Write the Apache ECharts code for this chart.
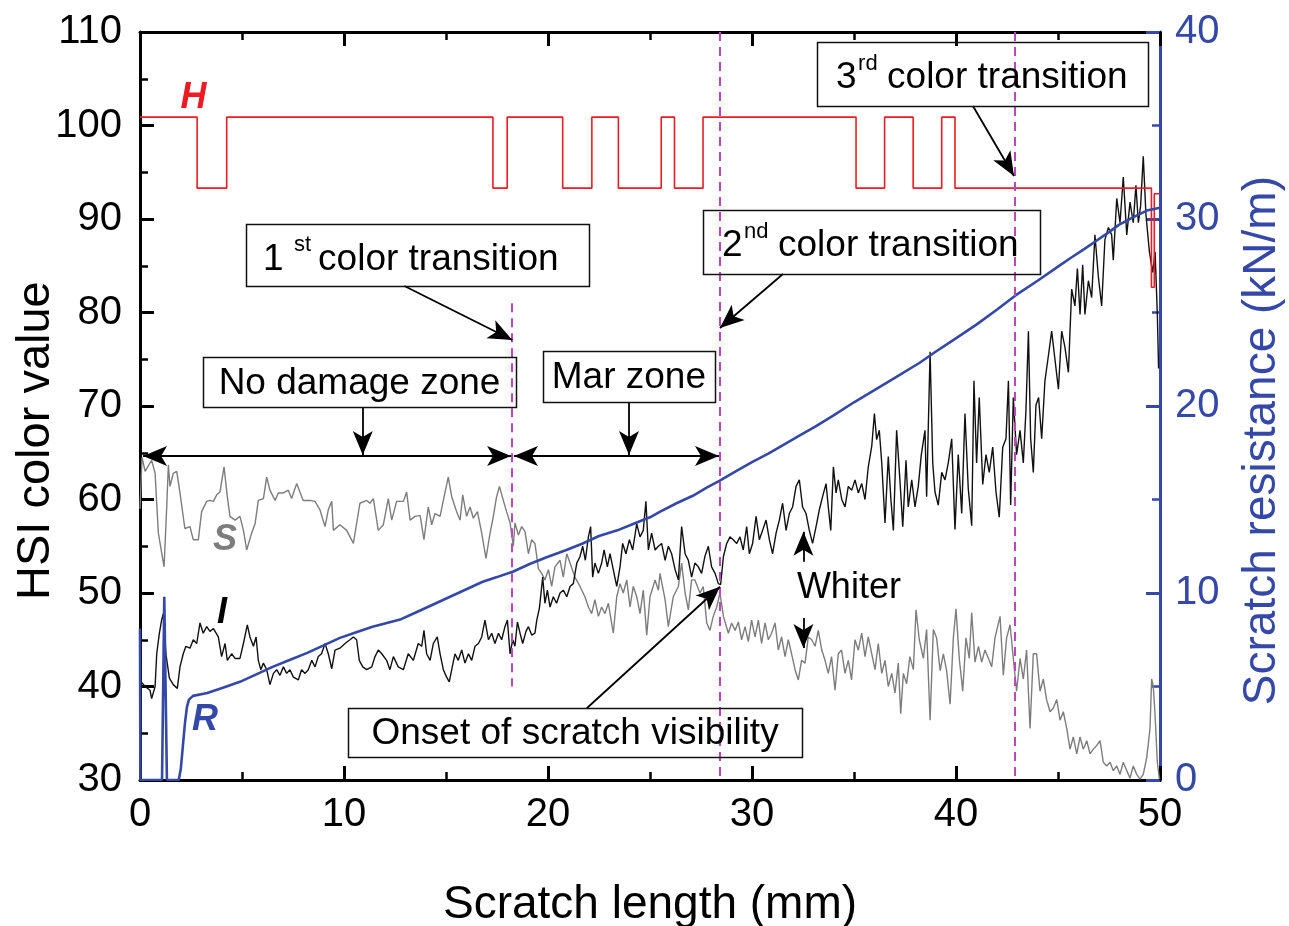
<!DOCTYPE html>
<html>
<head>
<meta charset="utf-8">
<script src="https://cdn.jsdelivr.net/npm/echarts@6/dist/echarts.min.js"></script>
<style>
html, body { margin: 0; padding: 0; background: #fff; }
#main { width: 1289px; height: 926px; }
</style>
</head>
<body>
<div id="main"></div>
<script>
// HSI colour values and scratch resistance along the scratch

var FONT = '"Liberation Sans", Arial, sans-serif';
var RED = '#ed1c24';
var GRAY = '#7d7d7d';
var BLUE = '#3448a8';
var MAGENTA = '#bb48bb';

// S (saturation), [mm, value]
var S_DATA = [
  [0,59.0],[0.1,64.5],[0.25,63.0],[0.57,64.2],[0.74,62.8],[0.9,56.4],[1.18,52.8],[1.31,59.2],[1.39,63.7],[1.47,61.4],
  [1.63,62.8],[1.8,63.0],[1.96,60.7],[2.2,56.9],[2.45,57.1],[2.61,55.7],[2.86,55.7],[3.02,58.7],[3.27,59.8],[3.43,59.9],
  [3.6,59.8],[3.76,60.5],[3.92,60.8],[4.12,63.5],[4.28,60.3],[4.41,58.2],[4.66,57.8],[4.9,58.2],[5.07,56.7],[5.23,54.6],
  [5.47,56.4],[5.64,57.4],[5.8,59.9],[6.05,60.1],[6.21,62.4],[6.37,61.0],[6.62,59.9],[6.78,60.7],[7.03,60.7],[7.27,61.0],
  [7.43,60.1],[7.68,61.7],[7.84,60.8],[8.0,59.9],[8.33,59.9],[8.58,59.8],[8.82,58.9],[9.07,57.1],[9.23,58.9],[9.4,59.8],
  [9.48,56.7],[9.8,57.3],[10.13,56.7],[10.46,55.3],[10.78,59.6],[11.11,59.9],[11.27,59.6],[11.44,60.1],[11.68,56.7],[11.93,57.3],
  [12.17,60.1],[12.34,57.8],[12.58,59.8],[12.91,59.8],[13.07,60.8],[13.24,57.8],[13.48,58.2],[13.73,58.3],[13.92,55.7],[14.13,59.2],
  [14.3,57.3],[14.46,58.5],[14.71,58.2],[14.87,59.9],[15.11,62.4],[15.28,60.3],[15.52,58.7],[15.69,57.8],[15.82,60.5],[16.01,58.2],
  [16.18,59.2],[16.34,58.0],[16.54,58.7],[16.75,56.4],[16.96,53.7],[17.16,56.4],[17.32,58.2],[17.48,60.3],[17.62,61.4],[17.81,59.9],
  [17.97,58.7],[18.14,57.5],[18.3,55.0],[18.38,57.5],[18.55,56.2],[18.71,57.1],[18.87,56.6],[19.04,54.2],[19.2,55.7],[19.36,55.3],
  [19.53,52.6],[19.69,52.1],[19.85,51.4],[20.02,52.5],[20.18,50.7],[20.34,52.8],[20.59,53.5],[20.75,51.7],[20.92,54.2],[21.08,53.2],
  [21.32,51.7],[21.57,50.7],[21.81,49.6],[21.98,48.5],[22.14,47.8],[22.3,49.3],[22.47,47.5],[22.63,48.5],[22.79,47.8],[22.96,48.9],
  [23.2,45.7],[23.37,49.6],[23.53,51.0],[23.69,50.0],[23.86,51.4],[24.02,48.5],[24.18,50.7],[24.35,49.6],[24.51,47.8],[24.67,50.3],
  [24.84,45.5],[25.0,49.6],[25.25,51.4],[25.41,50.3],[25.49,52.1],[25.74,49.3],[25.9,46.4],[26.14,49.6],[26.39,50.7],[26.55,53.2],
  [26.72,50.0],[26.88,48.2],[27.04,51.4],[27.2,51.4],[27.45,50.0],[27.61,50.7],[27.78,46.8],[27.94,46.0],[28.1,47.5],[28.27,48.5],
  [28.43,50.0],[28.6,47.5],[28.84,45.7],[29.0,46.8],[29.17,46.0],[29.33,46.9],[29.49,45.0],[29.66,46.4],[29.82,44.8],[29.98,47.1],
  [30.15,45.3],[30.31,47.1],[30.47,44.6],[30.64,46.8],[30.8,45.0],[30.96,45.7],[31.13,46.8],[31.29,43.9],[31.45,45.3],[31.62,43.2],
  [31.78,45.0],[31.94,43.5],[32.11,41.8],[32.27,40.7],[32.43,42.8],[32.6,42.5],[32.76,45.3],[32.93,45.0],[33.09,44.3],[33.25,46.0],
  [33.42,43.9],[33.58,42.8],[33.74,41.4],[33.9,43.2],[34.07,39.6],[34.23,43.5],[34.39,43.9],[34.56,41.4],[34.72,42.8],[34.88,40.7],
  [35.05,45.0],[35.21,43.9],[35.38,45.7],[35.54,43.2],[35.7,45.3],[35.87,43.5],[36.03,41.8],[36.19,44.6],[36.36,41.4],[36.52,42.8],
  [36.68,40.0],[36.85,41.4],[37.01,39.3],[37.17,42.5],[37.29,37.1],[37.42,41.4],[37.58,40.3],[37.74,43.2],[37.91,41.8],[38.04,48.2],
  [38.2,45.0],[38.4,43.0],[38.56,46.1],[38.73,36.4],[38.89,46.1],[39.05,45.2],[39.22,41.7],[39.38,43.5],[39.54,41.7],[39.71,38.1],
  [39.87,45.2],[40.0,48.3],[40.16,43.0],[40.33,39.5],[40.49,45.2],[40.65,43.0],[40.77,47.9],[40.93,42.6],[41.1,44.3],[41.26,42.6],
  [41.42,43.9],[41.59,43.0],[41.75,42.1],[41.91,45.2],[42.16,47.5],[42.32,41.2],[42.48,45.2],[42.65,46.6],[42.81,43.0],[42.97,39.5],
  [43.14,43.0],[43.3,40.8],[43.46,43.9],[43.63,35.5],[43.79,43.5],[43.95,43.5],[44.12,39.5],[44.28,40.8],[44.44,38.6],[44.61,37.3],
  [44.77,37.7],[44.94,38.6],[45.1,36.4],[45.26,37.3],[45.43,35.5],[45.59,33.3],[45.75,34.6],[45.92,32.8],[46.08,34.6],[46.24,33.3],
  [46.41,34.2],[46.57,32.8],[46.73,33.3],[46.9,33.7],[47.06,34.2],[47.22,31.9],[47.39,31.5],[47.55,31.9],[47.71,31.0],[47.88,31.5],
  [48.04,30.6],[48.2,31.9],[48.37,31.0],[48.53,30.2],[48.69,31.5],[48.86,30.6],[49.02,30.1],[49.18,30.6],[49.35,32.4],[49.51,35.5],
  [49.59,40.8],[49.67,40.0],[49.75,37.3],[49.87,31.9],[49.97,30.1]
];

// I (intensity), [mm, value]
var I_DATA = [
  [0.05,40.5],[0.25,40.0],[0.49,39.6],[0.57,38.7],[0.74,40.0],[0.82,43.5],[0.95,45.7],[1.06,47.1],[1.14,47.8],[1.27,43.5],
  [1.44,40.9],[1.63,40.2],[1.83,39.8],[1.96,42.1],[2.12,43.5],[2.25,44.3],[2.45,44.1],[2.61,45.0],[2.78,44.6],[2.94,46.8],
  [3.1,45.7],[3.27,46.4],[3.43,45.9],[3.6,46.2],[3.84,45.3],[4.0,43.2],[4.17,44.6],[4.28,42.8],[4.49,43.5],[4.66,43.0],
  [4.9,43.0],[5.07,44.6],[5.26,46.6],[5.39,45.3],[5.56,44.3],[5.69,45.3],[5.8,42.8],[5.92,41.8],[6.05,42.5],[6.21,41.8],
  [6.37,40.2],[6.54,41.4],[6.7,41.8],[6.86,41.2],[7.03,42.1],[7.19,41.4],[7.35,41.8],[7.52,41.0],[7.76,40.7],[7.92,41.8],
  [8.09,41.4],[8.25,41.8],[8.42,42.8],[8.58,42.1],[8.74,43.2],[8.9,43.5],[9.07,44.6],[9.23,43.5],[9.4,41.9],[9.56,43.9],
  [9.8,44.1],[10.05,44.6],[10.29,45.0],[10.46,45.3],[10.62,45.0],[10.75,42.8],[10.92,42.1],[11.11,41.8],[11.36,42.1],[11.52,43.2],
  [11.68,43.9],[11.85,43.5],[12.09,42.8],[12.25,41.8],[12.42,43.2],[12.66,42.1],[12.91,41.8],[13.15,43.5],[13.4,42.8],[13.64,44.6],
  [13.81,44.3],[13.92,46.0],[14.05,43.5],[14.22,42.8],[14.38,44.6],[14.57,45.3],[14.71,43.5],[14.87,41.8],[15.03,41.0],[15.16,40.5],
  [15.28,41.8],[15.44,43.5],[15.6,42.8],[15.77,43.9],[15.93,42.5],[16.1,43.5],[16.26,42.8],[16.42,44.3],[16.59,44.6],[16.75,45.3],
  [16.91,47.1],[17.08,45.0],[17.24,45.7],[17.4,44.6],[17.57,45.7],[17.73,45.0],[17.89,46.4],[18.01,47.1],[18.14,43.5],[18.27,45.0],
  [18.38,44.3],[18.5,46.9],[18.63,45.7],[18.76,44.6],[18.92,45.9],[19.04,46.4],[19.2,45.5],[19.36,45.7],[19.45,47.1],[19.58,48.4],
  [19.74,51.7],[19.85,48.9],[19.97,50.3],[20.1,48.5],[20.26,49.6],[20.42,48.9],[20.59,50.0],[20.75,50.3],[20.92,49.6],[21.08,50.7],
  [21.24,51.0],[21.41,53.2],[21.57,53.9],[21.7,55.0],[21.83,53.5],[21.98,56.0],[22.09,57.1],[22.19,51.7],[22.3,53.2],[22.47,52.1],
  [22.63,53.2],[22.75,54.6],[22.91,52.8],[23.04,54.2],[23.2,52.5],[23.37,50.7],[23.53,52.8],[23.66,55.3],[23.82,54.2],[23.99,55.7],
  [24.15,54.6],[24.35,57.4],[24.51,56.0],[24.67,56.7],[24.8,59.8],[24.92,54.6],[25.08,56.4],[25.25,54.6],[25.41,55.0],[25.57,55.3],
  [25.74,53.5],[25.9,55.0],[26.06,54.2],[26.23,52.5],[26.39,51.4],[26.55,57.1],[26.72,54.2],[26.88,53.5],[27.04,51.7],[27.2,53.2],
  [27.37,52.8],[27.53,52.1],[27.69,53.9],[27.86,55.0],[28.02,52.8],[28.19,52.1],[28.35,51.0],[28.46,50.9],[28.6,53.9],[28.76,55.3],
  [28.92,56.0],[29.08,55.7],[29.25,55.3],[29.41,56.0],[29.57,54.6],[29.74,57.1],[29.87,54.2],[30.03,55.3],[30.2,58.2],[30.36,55.7],
  [30.52,56.7],[30.69,57.8],[30.85,55.7],[31.01,54.2],[31.18,56.4],[31.34,57.8],[31.5,59.6],[31.67,56.7],[31.83,58.5],[31.99,59.2],
  [32.16,61.4],[32.32,62.1],[32.48,59.2],[32.65,58.5],[32.81,56.7],[32.97,55.3],[33.14,57.1],[33.3,58.9],[33.46,60.3],[33.63,61.7],
  [33.74,59.2],[33.86,56.7],[33.99,63.5],[34.12,60.7],[34.23,62.1],[34.4,60.0],[34.56,59.2],[34.72,61.4],[34.89,61.0],[35.05,62.1],
  [35.21,60.7],[35.38,61.7],[35.54,60.0],[35.7,63.5],[35.87,65.7],[36.0,69.2],[36.11,66.4],[36.24,67.4],[36.36,63.9],[36.52,57.5],
  [36.68,64.6],[36.81,60.0],[36.93,56.7],[37.09,67.4],[37.25,62.1],[37.39,57.1],[37.55,64.2],[37.66,59.2],[37.83,62.1],[37.99,59.2],
  [38.15,61.4],[38.3,64.8],[38.48,67.4],[38.56,60.3],[38.73,75.8],[38.86,63.9],[38.97,60.8],[39.13,59.4],[39.3,62.9],[39.46,62.1],
  [39.62,63.9],[39.79,66.5],[39.95,56.8],[40.11,64.8],[40.28,58.5],[40.44,69.2],[40.6,61.2],[40.77,57.2],[40.88,72.7],[41.01,63.9],
  [41.14,70.9],[41.31,61.6],[41.47,64.8],[41.63,62.9],[41.8,65.6],[41.96,60.8],[42.12,58.1],[42.29,65.6],[42.45,66.5],[42.57,72.7],
  [42.68,59.4],[42.81,70.9],[42.97,64.8],[43.14,67.4],[43.3,63.9],[43.43,69.6],[43.55,78.0],[43.66,66.5],[43.79,62.9],[43.92,70.1],
  [44.05,70.9],[44.2,66.5],[44.36,72.7],[44.53,75.4],[44.69,78.0],[44.85,75.0],[45.02,71.8],[45.18,78.0],[45.34,76.3],[45.51,73.6],
  [45.67,82.5],[45.83,80.7],[45.95,84.7],[46.08,79.8],[46.21,85.1],[46.32,79.8],[46.49,83.4],[46.65,81.6],[46.81,88.3],[46.98,83.8],
  [47.14,80.7],[47.3,87.8],[47.47,89.1],[47.63,88.3],[47.71,85.6],[47.88,92.2],[48.04,89.6],[48.2,94.5],[48.37,88.3],[48.53,91.8],
  [48.69,89.6],[48.82,93.6],[48.94,89.6],[49.05,91.4],[49.18,96.7],[49.31,90.5],[49.48,86.5],[49.64,84.3],[49.76,86.5],[49.87,79.8],
  [49.93,74.0]
];

// H (hue), stepped: value changes at each mm position
var H_DATA = [
  [0,100.9],[2.8,93.3],[4.25,100.9],[17.3,93.3],[18.0,100.9],[20.72,93.3],[22.15,100.9],[23.45,93.3],[25.55,100.9],
  [26.2,93.3],[27.6,100.9],[35.1,93.3],[36.5,100.9],[37.9,93.3],[39.3,100.9],[39.95,93.3],[49.58,82.7],[49.72,92.7],[50,92.7]
];

// R (scratch resistance, kN/m), [mm, value]
var R_DATA = [
  [0,8.1],[0.02,0],[1.08,0],[1.19,9.8],[1.32,0],[1.9,0],[2.0,0.6],[2.1,1.8],[2.2,3.0],[2.3,3.9],[2.4,4.3],[2.6,4.5],
  [3.3,4.65],[4.1,4.95],[4.9,5.25],[5.7,5.65],[6.5,6.05],[7.3,6.4],[8.2,6.8],[9.0,7.2],[9.8,7.6],[10.6,7.9],[11.4,8.2],
  [12.1,8.4],[12.8,8.6],[13.6,9.0],[14.4,9.4],[15.2,9.8],[16.0,10.2],[16.8,10.6],[17.5,10.85],[18.3,11.15],[19.1,11.55],
  [19.9,11.9],[20.9,12.3],[21.7,12.65],[22.5,13.05],[23.4,13.35],[24.2,13.7],[25.0,14.05],[25.5,14.35],[26.3,14.8],
  [27.1,15.2],[27.8,15.65],[28.4,16.0],[29.2,16.5],[30.0,17.0],[30.8,17.45],[31.5,17.9],[32.3,18.4],[33.1,18.9],[34.0,19.5],
  [35.0,20.2],[36.0,20.85],[37.0,21.5],[38.2,22.3],[39.0,22.9],[39.9,23.55],[41.0,24.35],[42.0,25.15],[42.9,25.9],[44.0,26.7],
  [45.0,27.45],[45.6,27.9],[46.3,28.4],[46.9,28.85],[47.5,29.3],[48.0,29.7],[48.7,30.1],[49.35,30.45],[50,30.6]
];

// colour transition positions (mm) with the span of each dashed marker
var TRANSITIONS = [[18.2, 81.0, 40.0], [28.4, 110, 30], [42.9, 110, 30]];

// arrows: from, to (mm, HSI value); both = double-headed
var ARROWS = [
  {from: [12.96, 82.83], to: [18.25, 77.06]},
  {from: [31.52, 84.12], to: [28.43, 78.34]},
  {from: [40.83, 102.09], to: [42.84, 94.6]},
  {from: [10.92, 69.89], to: [10.92, 64.76]},
  {from: [23.97, 70.43], to: [23.97, 64.76]},
  {from: [21.9, 37.67], to: [28.43, 50.67]},
  {from: [32.52, 53.35], to: [32.52, 56.56]},
  {from: [32.52, 47.33], to: [32.52, 44.12]},
  {from: [0.15, 64.65], to: [18.19, 64.65], both: true},
  {from: [18.33, 64.65], to: [28.38, 64.65], both: true}
];

var chart = echarts.init(document.getElementById('main'));

function tickAxis(color) {
  return {
    axisLine: {show: true, onZero: false, lineStyle: {color: color, width: 3}},
    axisTick: {show: true, inside: true, length: 14, lineStyle: {color: color, width: 3}},
    minorTick: {show: true, splitNumber: 2, length: 8, lineStyle: {color: color, width: 2.5}},
    splitLine: {show: false},
    minorSplitLine: {show: false}
  };
}

var xBottom = Object.assign(tickAxis('#000'), {
  type: 'value', position: 'bottom', min: 0, max: 50, interval: 10,
  axisLabel: {color: '#000', fontSize: 40, fontFamily: FONT, margin: 15},
  name: 'Scratch length (mm)', nameLocation: 'middle', nameGap: 102,
  nameTextStyle: {color: '#000', fontSize: 46, fontFamily: FONT}
});
var xTop = Object.assign(tickAxis('#000'), {
  type: 'value', position: 'top', min: 0, max: 50, interval: 10,
  axisLabel: {show: false}
});
var yLeft = Object.assign(tickAxis('#000'), {
  type: 'value', position: 'left', min: 30, max: 110, interval: 10,
  axisLabel: {color: '#000', fontSize: 40, fontFamily: FONT, margin: 18}
});
var yRight = Object.assign(tickAxis(BLUE), {
  type: 'value', position: 'right', min: 0, max: 40, interval: 10,
  axisLabel: {color: BLUE, fontSize: 40, fontFamily: FONT, margin: 15}
});

var option = {
  animation: false,
  backgroundColor: '#fff',
  grid: {left: 140, right: 129, top: 32, bottom: 146, containLabel: false, outerBoundsMode: 'none'},
  xAxis: [xBottom, xTop],
  yAxis: [yLeft, yRight],
  series: [
    {
      name: 'S', type: 'line', data: S_DATA, showSymbol: false, symbol: 'none',
      lineStyle: {color: GRAY, width: 1.4}, z: 2,
      markLine: {
        silent: true, symbol: ['none', 'none'], label: {show: false},
        lineStyle: {color: MAGENTA, width: 2, type: [9, 6]},
        data: TRANSITIONS.map(function (t) {
          return [{coord: [t[0], t[1]]}, {coord: [t[0], t[2]]}];
        })
      }
    },
    {
      name: 'I', type: 'line', data: I_DATA, showSymbol: false, symbol: 'none',
      lineStyle: {color: '#111', width: 1.4}, z: 3
    },
    {
      name: 'H', type: 'line', step: 'end', data: H_DATA, showSymbol: false, symbol: 'none',
      lineStyle: {color: RED, width: 1.6}, z: 3,
      markLine: {
        silent: true, label: {show: false}, symbolSize: [15, 24],
        lineStyle: {color: '#000', width: 1.8, type: 'solid'},
        data: ARROWS.map(function (a) {
          return [
            {coord: a.from, symbol: a.both ? 'arrow' : 'none'},
            {coord: a.to, symbol: 'arrow'}
          ];
        })
      }
    },
    {
      name: 'R', type: 'line', yAxisIndex: 1, data: R_DATA, showSymbol: false, symbol: 'none',
      lineStyle: {color: BLUE, width: 2.6}, z: 4
    }
  ]
};

chart.setOption(option);

// text boxes and labels, anchored in data coordinates
var BOXES = [
  {corner: [5.2, 89.47], w: 343, h: 62, parts: [
    {t: '1', dx: 17, dy: 36, size: 37}, {t: 'st', dx: 48, dy: 21, size: 22}, {t: 'color transition', dx: 72, dy: 36, size: 37}]},
  {corner: [27.6, 90.96], w: 337, h: 64, parts: [
    {t: '2', dx: 19, dy: 36, size: 37}, {t: 'nd', dx: 41, dy: 22, size: 22}, {t: 'color transition', dx: 75, dy: 36, size: 37}]},
  {corner: [33.19, 108.93], w: 331, h: 64, parts: [
    {t: '3', dx: 19, dy: 36, size: 37}, {t: 'rd', dx: 41, dy: 22, size: 22}, {t: 'color transition', dx: 70, dy: 36, size: 37}]},
  {corner: [3.09, 75.24], w: 313, h: 50, center: 'No damage zone', dy: 27},
  {corner: [19.75, 75.88], w: 172, h: 51, center: 'Mar zone', dy: 27},
  {corner: [10.2, 37.7], w: 454, h: 49, center: 'Onset of scratch visibility', dy: 26}
];

var LABELS = [
  {t: 'H', at: [2.62, 102.9], color: RED, emph: true},
  {t: 'S', at: [4.17, 55.67], color: GRAY, emph: true},
  {t: 'I', at: [4.02, 47.8], color: '#000', emph: true},
  {t: 'R', at: [3.19, 36.4], color: BLUE, emph: true},
  {t: 'Whiter', at: [34.75, 50.53], color: '#000', emph: false}
];

function toPx(p) {
  return chart.convertToPixel({xAxisIndex: 0, yAxisIndex: 0}, p);
}

var graphics = [];
BOXES.forEach(function (b) {
  var c = toPx(b.corner);
  graphics.push({
    type: 'rect', silent: true, z: 50,
    shape: {x: Math.round(c[0]) + 0.5, y: Math.round(c[1]) + 0.5, width: b.w, height: b.h},
    style: {fill: 'none', stroke: '#111', lineWidth: 1.5}
  });
  if (b.center) {
    graphics.push({
      type: 'text', silent: true, z: 51, x: c[0] + b.w / 2, y: c[1] + b.dy,
      style: {text: b.center, fill: '#000', fontSize: 37, fontFamily: FONT, align: 'center', verticalAlign: 'middle'}
    });
  } else {
    b.parts.forEach(function (p) {
      graphics.push({
        type: 'text', silent: true, z: 51, x: c[0] + p.dx, y: c[1] + p.dy,
        style: {text: p.t, fill: '#000', fontSize: p.size, fontFamily: FONT, align: 'left', verticalAlign: 'middle'}
      });
    });
  }
});
LABELS.forEach(function (l) {
  var c = toPx(l.at);
  graphics.push({
    type: 'text', silent: true, z: 51, x: c[0], y: c[1],
    style: {
      text: l.t, fill: l.color, fontSize: 36, fontFamily: FONT,
      fontWeight: l.emph ? 'bold' : 'normal', fontStyle: l.emph ? 'italic' : 'normal',
      align: 'center', verticalAlign: 'middle'
    }
  });
});

// vertical axis titles, centred a little below the plot middle as in the figure
var plotMid = toPx([0, 66.3])[1];
graphics.push({
  type: 'text', silent: true, x: 36, y: plotMid, rotation: Math.PI / 2,
  style: {text: 'HSI color value', fill: '#000', fontSize: 47, fontFamily: FONT, align: 'center', verticalAlign: 'middle'}
});
graphics.push({
  type: 'text', silent: true, x: 1262, y: plotMid, rotation: Math.PI / 2,
  style: {text: 'Scratch resistance (kN/m)', fill: BLUE, fontSize: 46, fontFamily: FONT, align: 'center', verticalAlign: 'middle'}
});

chart.setOption({graphic: graphics});
</script>
</body>
</html>
